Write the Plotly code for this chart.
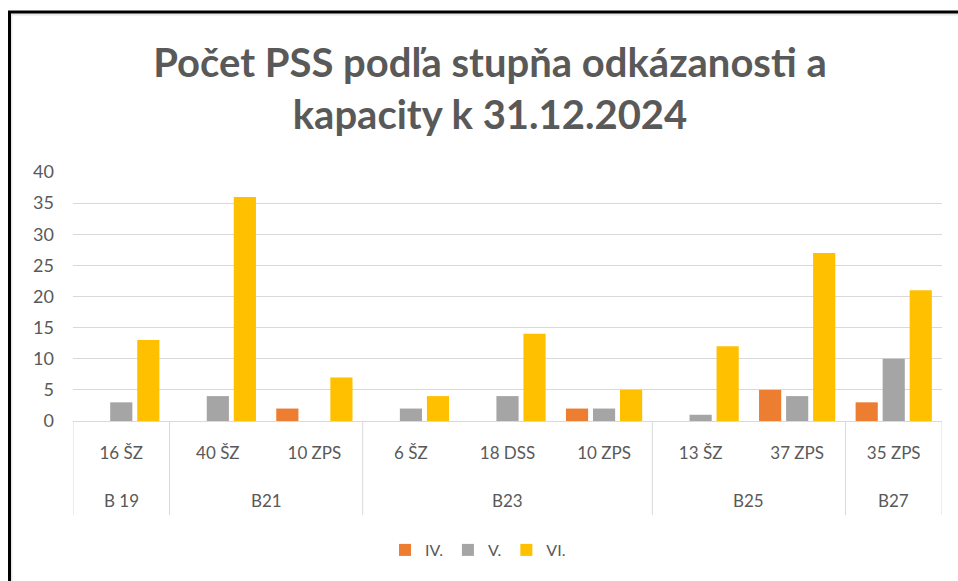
import plotly.graph_objects as go

groups = ["B 19", "B21", "B23", "B25", "B27"]
group_items = [
    ["16 ŠZ"],
    ["40 ŠZ", "10 ZPS"],
    ["6 ŠZ", "18 DSS", "10 ZPS"],
    ["13 ŠZ", "37 ZPS"],
    ["35 ZPS"],
]
series_names = ["IV.", "V.", "VI."]
iv_vals = [0, 0, 2, 0, 0, 2, 0, 5, 3]
v_vals = [3, 4, 0, 2, 4, 2, 1, 4, 10]
vi_vals = [13, 36, 7, 4, 14, 5, 12, 27, 21]
colors = ["#ED7D31", "#A5A5A5", "#FFC000"]
y_ticks = [0, 5, 10, 15, 20, 25, 30, 35, 40]

inner = [it for g in group_items for it in g]
xpos = list(range(len(inner)))

W, H = 958, 581
L, R, T, B = 73, 16, 172, 160
pw, ph = W - L - R, H - T - B


def px_x(p):
    return (p - L) / pw


def px_y(p):
    return (H - B - p) / ph


fig = go.Figure()
for name, vals, col in zip(series_names, [iv_vals, v_vals, vi_vals], colors):
    fig.add_trace(go.Bar(
        x=xpos, y=vals, name=name,
        marker=dict(color=col, line=dict(width=0)),
    ))

font_family = "Lato, 'Open Sans', sans-serif"
txt_col = "#595959"
grid_col = "#D9D9D9"

# group labels and dividers (in data coordinates of the category axis)
annotations = []
shapes = []
start = 0
bounds = [-0.5]
for g, items in zip(groups, group_items):
    end = start + len(items)
    annotations.append(dict(
        x=(start + end - 1) / 2, y=px_y(500), xref="x", yref="paper",
        text=g, showarrow=False, xanchor="center", yanchor="middle",
        font=dict(family=font_family, size=17, color=txt_col),
    ))
    bounds.append(end - 0.5)
    start = end
for b in bounds:
    shapes.append(dict(type="line", xref="x", yref="paper", x0=b, x1=b,
                       y0=px_y(421), y1=px_y(515), line=dict(color=grid_col, width=1)))

# outer frame
shapes += [
    dict(type="line", xref="paper", yref="paper", x0=px_x(9), x1=px_x(960), y0=px_y(14.5), y1=px_y(14.5),
         line=dict(color="#E8E8E8", width=2)),
    dict(type="line", xref="paper", yref="paper", x0=px_x(11.5), x1=px_x(11.5), y0=px_y(12), y1=px_y(590),
         line=dict(color="#E8E8E8", width=2)),
    dict(type="line", xref="paper", yref="paper", x0=px_x(8), x1=px_x(960), y0=px_y(12), y1=px_y(12),
         line=dict(color="black", width=3)),
    dict(type="line", xref="paper", yref="paper", x0=px_x(9.5), x1=px_x(9.5), y0=px_y(11), y1=px_y(590),
         line=dict(color="black", width=3)),
]

fig.update_layout(
    width=W, height=H,
    margin=dict(l=L, r=R, t=T, b=B),
    paper_bgcolor="white", plot_bgcolor="white",
    barmode="group", bargap=0.16, bargroupgap=0.18,
    title=dict(
        text="<b>Počet PSS podľa stupňa odkázanosti a<br>kapacity k 31.12.2024</b>",
        x=490 / W, xref="container", xanchor="center",
        y=1 - 77 / H, yref="container", yanchor="top",
        font=dict(family=font_family, size=40, color=txt_col),
    ),
    font=dict(family=font_family, color=txt_col),
    showlegend=True,
    legend=dict(
        orientation="h", x=px_x(478), xanchor="center", y=px_y(550), yanchor="middle",
        font=dict(size=16, color=txt_col), itemwidth=30, traceorder="normal",
    ),
    xaxis=dict(
        range=[-0.5, len(inner) - 0.5],
        tickvals=xpos, ticktext=inner,
        showline=True, linecolor=grid_col, linewidth=1,
        showgrid=False, zeroline=False,
        tickfont=dict(size=17, color=txt_col),
        ticks="", ticklabelstandoff=17,
    ),
    yaxis=dict(
        range=[0, 40], tickvals=y_ticks,
        showgrid=True, gridcolor=grid_col, gridwidth=1,
        zeroline=False, showline=False,
        tickfont=dict(size=18, color=txt_col),
        ticklabelstandoff=18,
    ),
    annotations=annotations,
    shapes=shapes,
)

fig.write_html(
    "out.html",
    config={"displayModeBar": False},
    post_script="document.body.style.margin='0';document.body.style.overflow='hidden';",
)
